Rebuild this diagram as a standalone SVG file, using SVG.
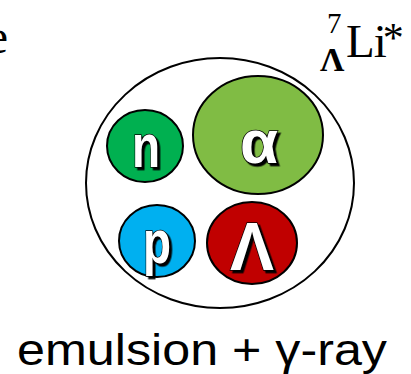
<svg xmlns="http://www.w3.org/2000/svg" width="411" height="374" viewBox="0 0 411 374">
<defs>
<filter id="shadow" x="-20%" y="-20%" width="150%" height="150%">
<feDropShadow dx="2.5" dy="2.5" stdDeviation="0" flood-color="#000" flood-opacity="1"/>
</filter>
</defs>
<style>
.ser{font-family:"Liberation Serif","Times New Roman",serif;fill:#000}
.ring{fill:#fff;stroke:#000;stroke-width:2}
.ball{stroke:#000;stroke-width:2}
.lb{font-family:"Liberation Sans",Arial,sans-serif;font-weight:bold;fill:#fff;stroke:#000;stroke-width:1.5;paint-order:stroke;text-anchor:middle;filter:url(#shadow)}
.cap{font-family:"Liberation Sans",Arial,sans-serif;font-size:45px;fill:#000}
</style>
<rect width="411" height="374" fill="#fff"/>
<text class="ser" x="8" y="53" font-size="48" text-anchor="end">e</text>
<g id="label-li">
<text class="ser" x="327" y="33" font-size="29">7</text>
<text class="ser" x="320" y="71" font-size="34" font-weight="bold">Λ</text>
<text class="ser" x="346" y="57" font-size="47">L<tspan dx="-1">i</tspan><tspan dx="-4" dy="-5" font-size="42">*</tspan></text>
</g>
<g id="nucleus">
<ellipse class="ring" cx="220" cy="183" rx="134" ry="125"/>
</g>
<g id="alpha">
<ellipse class="ball" fill="#80BC44" cx="258" cy="135" rx="65" ry="59"/>
<text class="lb" x="259" y="163" font-size="62">α</text>
</g>
<g id="neutron">
<ellipse class="ball" fill="#00B050" cx="145" cy="146" rx="38" ry="36"/>
<text class="lb" x="146" y="167" font-size="62" textLength="28" lengthAdjust="spacingAndGlyphs">n</text>
</g>
<g id="proton">
<ellipse class="ball" fill="#00B0F0" cx="157" cy="241" rx="38" ry="36"/>
<text class="lb" x="157" y="263" font-size="62" textLength="28" lengthAdjust="spacingAndGlyphs">p</text>
</g>
<g id="lambda">
<ellipse class="ball" fill="#C00000" cx="252" cy="243" rx="45" ry="41"/>
<text class="lb" x="252" y="270" font-size="68" textLength="44" lengthAdjust="spacingAndGlyphs">Λ</text>
</g>
<g id="connectors"/>
<text class="cap" x="17" y="365" textLength="370" lengthAdjust="spacingAndGlyphs">emulsion + γ-ray</text>
</svg>
